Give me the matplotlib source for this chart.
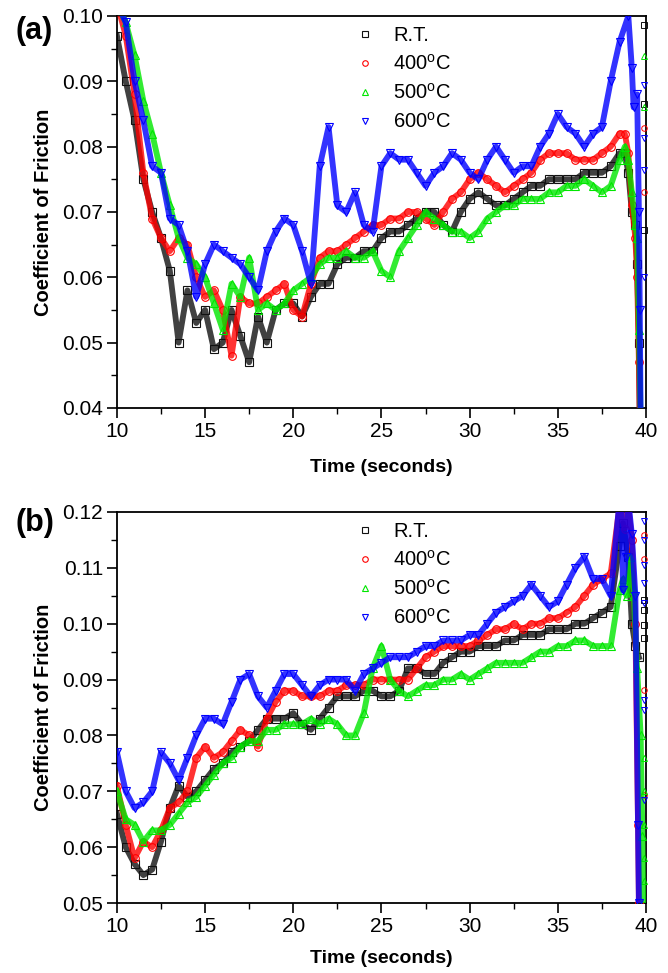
import numpy as np
import matplotlib
matplotlib.use('Agg')
import matplotlib.pyplot as plt
from matplotlib.ticker import MultipleLocator, FormatStrFormatter

plt.rcParams['font.family'] = ['Liberation Sans', 'DejaVu Sans']
plt.rcParams['mathtext.fontset'] = 'custom'
plt.rcParams['mathtext.rm'] = 'Liberation Sans'

# common time grid of the read values (s), then a per-series tail near 39-40 s
t_grid = np.arange(10.0, 38.51, 0.5)

labels = ['R.T.', r'400$^{\mathrm{o}}$C', r'500$^{\mathrm{o}}$C', r'600$^{\mathrm{o}}$C']

# ---- panel (a) ----
a_rt = [0.097, 0.090, 0.084, 0.075, 0.070, 0.066, 0.061, 0.050, 0.058, 0.053,
        0.055, 0.049, 0.050, 0.055, 0.051, 0.047, 0.054, 0.050, 0.055, 0.056,
        0.056, 0.054, 0.057, 0.059, 0.059, 0.062, 0.063, 0.063, 0.064, 0.064,
        0.066, 0.067, 0.067, 0.068, 0.069, 0.070, 0.070, 0.068, 0.067, 0.070,
        0.072, 0.073, 0.072, 0.071, 0.071, 0.072, 0.073, 0.074, 0.074, 0.075,
        0.075, 0.075, 0.075, 0.076, 0.076, 0.076, 0.077, 0.079]
a_400 = [0.102, 0.097, 0.088, 0.076, 0.069, 0.066, 0.064, 0.066, 0.065, 0.060,
         0.057, 0.058, 0.055, 0.048, 0.057, 0.056, 0.056, 0.057, 0.058, 0.059,
         0.055, 0.054, 0.059, 0.063, 0.064, 0.064, 0.065, 0.066, 0.067, 0.068,
         0.068, 0.069, 0.069, 0.070, 0.070, 0.069, 0.068, 0.070, 0.072, 0.073,
         0.075, 0.076, 0.075, 0.074, 0.073, 0.074, 0.075, 0.076, 0.078, 0.079,
         0.079, 0.079, 0.078, 0.078, 0.078, 0.079, 0.080, 0.082]
a_500 = [0.102, 0.099, 0.094, 0.087, 0.082, 0.076, 0.071, 0.066, 0.063, 0.062,
         0.060, 0.056, 0.052, 0.059, 0.057, 0.063, 0.055, 0.056, 0.055, 0.056,
         0.058, 0.059, 0.060, 0.062, 0.063, 0.063, 0.064, 0.063, 0.063, 0.064,
         0.061, 0.060, 0.064, 0.066, 0.068, 0.070, 0.069, 0.068, 0.067, 0.067,
         0.066, 0.067, 0.069, 0.070, 0.071, 0.071, 0.072, 0.072, 0.072, 0.073,
         0.073, 0.074, 0.074, 0.075, 0.074, 0.073, 0.074, 0.078]
a_600 = [0.102, 0.099, 0.090, 0.084, 0.077, 0.076, 0.069, 0.068, 0.064, 0.057,
         0.062, 0.065, 0.064, 0.063, 0.062, 0.060, 0.058, 0.064, 0.067, 0.069,
         0.068, 0.064, 0.059, 0.077, 0.083, 0.071, 0.070, 0.073, 0.068, 0.067,
         0.077, 0.079, 0.078, 0.078, 0.076, 0.074, 0.076, 0.077, 0.079, 0.078,
         0.076, 0.075, 0.078, 0.080, 0.078, 0.076, 0.077, 0.077, 0.080, 0.082,
         0.085, 0.083, 0.082, 0.080, 0.082, 0.083, 0.090, 0.096]

a_tail_t = [[38.8, 39.0, 39.2, 39.4, 39.5, 39.6, 39.65],
            [38.8, 39.0, 39.2, 39.4, 39.5, 39.6, 39.65],
            [38.8, 39.0, 39.2, 39.4, 39.5, 39.6, 39.7],
            [39.0, 39.2, 39.3, 39.5, 39.6, 39.65, 39.7]]
a_tail_y = [[0.079, 0.076, 0.070, 0.068, 0.062, 0.050, 0.038],
            [0.082, 0.079, 0.071, 0.066, 0.060, 0.047, 0.038],
            [0.080, 0.078, 0.073, 0.068, 0.066, 0.052, 0.038],
            [0.100, 0.092, 0.086, 0.088, 0.070, 0.055, 0.038]]
# loose points along the right axis
a_loose = [[0.0986, 0.0866, 0.0672], [0.0828, 0.0731],
           [0.0938, 0.0860], [0.0894, 0.0813, 0.0764, 0.0600]]

# ---- panel (b) ----
b_rt = [0.066, 0.060, 0.057, 0.055, 0.056, 0.061, 0.067, 0.071, 0.069, 0.070,
        0.072, 0.074, 0.075, 0.077, 0.078, 0.079, 0.081, 0.083, 0.083, 0.083,
        0.084, 0.082, 0.081, 0.083, 0.085, 0.087, 0.087, 0.087, 0.088, 0.088,
        0.087, 0.087, 0.088, 0.092, 0.092, 0.091, 0.091, 0.093, 0.094, 0.095,
        0.095, 0.096, 0.096, 0.096, 0.097, 0.097, 0.098, 0.098, 0.098, 0.099,
        0.099, 0.099, 0.100, 0.100, 0.101, 0.102, 0.103, 0.114]
b_400 = [0.071, 0.064, 0.058, 0.061, 0.060, 0.063, 0.067, 0.068, 0.070, 0.076,
         0.078, 0.076, 0.077, 0.079, 0.081, 0.080, 0.078, 0.083, 0.086, 0.088,
         0.088, 0.087, 0.087, 0.087, 0.088, 0.088, 0.089, 0.089, 0.089, 0.090,
         0.090, 0.090, 0.090, 0.090, 0.092, 0.094, 0.095, 0.096, 0.096, 0.096,
         0.096, 0.097, 0.098, 0.099, 0.099, 0.100, 0.099, 0.100, 0.100, 0.101,
         0.101, 0.102, 0.103, 0.105, 0.107, 0.108, 0.109, 0.121]
b_500 = [0.070, 0.065, 0.064, 0.061, 0.063, 0.063, 0.064, 0.066, 0.068, 0.069,
         0.071, 0.073, 0.075, 0.076, 0.078, 0.079, 0.079, 0.081, 0.081, 0.082,
         0.082, 0.082, 0.083, 0.082, 0.083, 0.082, 0.080, 0.080, 0.084, 0.092,
         0.096, 0.090, 0.088, 0.087, 0.088, 0.089, 0.089, 0.090, 0.090, 0.091,
         0.090, 0.091, 0.092, 0.093, 0.093, 0.093, 0.093, 0.094, 0.095, 0.095,
         0.096, 0.096, 0.097, 0.097, 0.096, 0.096, 0.096, 0.106]
b_600 = [0.077, 0.070, 0.067, 0.068, 0.070, 0.077, 0.075, 0.072, 0.076, 0.080,
         0.083, 0.083, 0.082, 0.086, 0.090, 0.091, 0.087, 0.085, 0.088, 0.091,
         0.091, 0.089, 0.087, 0.089, 0.090, 0.090, 0.090, 0.088, 0.091, 0.092,
         0.093, 0.094, 0.094, 0.094, 0.095, 0.096, 0.096, 0.097, 0.097, 0.097,
         0.098, 0.098, 0.100, 0.102, 0.103, 0.104, 0.105, 0.107, 0.105, 0.103,
         0.104, 0.107, 0.110, 0.112, 0.108, 0.108, 0.105, 0.122]

b_tail_t = [[38.7, 39.0, 39.2, 39.4, 39.6],
            [38.8, 39.0, 39.2, 39.4, 39.55, 39.6],
            [38.7, 38.9, 39.1, 39.3, 39.5, 39.7, 39.8, 39.85],
            [38.6, 38.7, 38.85, 39.0, 39.2, 39.4, 39.55, 39.6]]
b_tail_y = [[0.118, 0.112, 0.100, 0.096, 0.094],
            [0.117, 0.121, 0.115, 0.100, 0.064, 0.050],
            [0.108, 0.105, 0.112, 0.106, 0.092, 0.080, 0.062, 0.048],
            [0.122, 0.106, 0.112, 0.122, 0.116, 0.105, 0.064, 0.050]]
b_loose = [[0.1043, 0.1025, 0.0998, 0.0974], [0.1158, 0.1115, 0.0882, 0.0694],
           [0.0760, 0.0700, 0.0640, 0.0580, 0.0540],
           [0.1183, 0.1150, 0.1106, 0.1073, 0.1037, 0.0864, 0.0846, 0.0685]]

colors = ['#111111', '#ff0000', '#00e600', '#0000ff']
markers = ['s', 'o', '^', 'v']

fig = plt.figure(figsize=(6.68, 9.73), dpi=100)
ax_a = fig.add_axes([0.175, 0.5807, 0.792, 0.4029])
ax_b = fig.add_axes([0.175, 0.0719, 0.792, 0.4019])


def draw(ax, series, tails_t, tails_y, loose, ylim, xlab_y):
    for i in range(4):
        t = np.concatenate([t_grid, tails_t[i]])
        y = np.concatenate([series[i], tails_y[i]])
        ax.plot(t, y, '-', color=colors[i], lw=4.2, alpha=0.8, zorder=2 + i)
        ax.plot(t, y, ls='none', marker=markers[i], ms=5.5, mfc='none',
                mec=colors[i], mew=0.8, zorder=2 + i)
        ax.plot(np.full(len(loose[i]), 39.88), loose[i], ls='none',
                marker=markers[i], ms=4, mfc='none', mec=colors[i], mew=0.7,
                zorder=2 + i, clip_on=False)
        # legend proxies
        ax.plot([], [], ls='none', marker=markers[i], ms=4, mfc='none',
                mec=colors[i], mew=0.8, label=labels[i])
    ax.set_xlim(10, 40)
    ax.set_ylim(*ylim)
    ax.xaxis.set_major_locator(MultipleLocator(5))
    ax.xaxis.set_minor_locator(MultipleLocator(2.5))
    ax.yaxis.set_major_locator(MultipleLocator(0.01))
    ax.yaxis.set_minor_locator(MultipleLocator(0.005))
    ax.yaxis.set_major_formatter(FormatStrFormatter('%.2f'))
    ax.tick_params(which='major', direction='out', length=7, width=1.2,
                   labelsize=15, pad=3)
    ax.tick_params(which='minor', direction='out', length=4, width=1.0)
    ax.tick_params(top=False, right=False)
    for s in ax.spines.values():
        s.set_linewidth(1.3)
    ax.set_xlabel('Time (seconds)', fontsize=14, fontweight='bold')
    ax.set_ylabel('Coefficient of Friction', fontsize=14.5, fontweight='bold')
    ax.xaxis.set_label_coords(0.5, xlab_y)
    ax.yaxis.set_label_coords(-0.12, 0.5)
    ax.legend(loc='upper left', bbox_to_anchor=(0.427, 1.006), frameon=False,
              fontsize=14.5, numpoints=1, handlelength=1.0, handletextpad=0.9,
              labelspacing=0.45, borderaxespad=0.2)


draw(ax_a, [a_rt, a_400, a_500, a_600], a_tail_t, a_tail_y, a_loose,
     (0.04, 0.10), -0.13)
draw(ax_b, [b_rt, b_400, b_500, b_600], b_tail_t, b_tail_y, b_loose,
     (0.05, 0.12), -0.12)

fig.text(0.051, 0.968, '(a)', fontsize=22, fontweight='bold', ha='center', va='center')
fig.text(0.052, 0.4625, '(b)', fontsize=22, fontweight='bold', ha='center', va='center')

fig.savefig('out.png', dpi=100)
